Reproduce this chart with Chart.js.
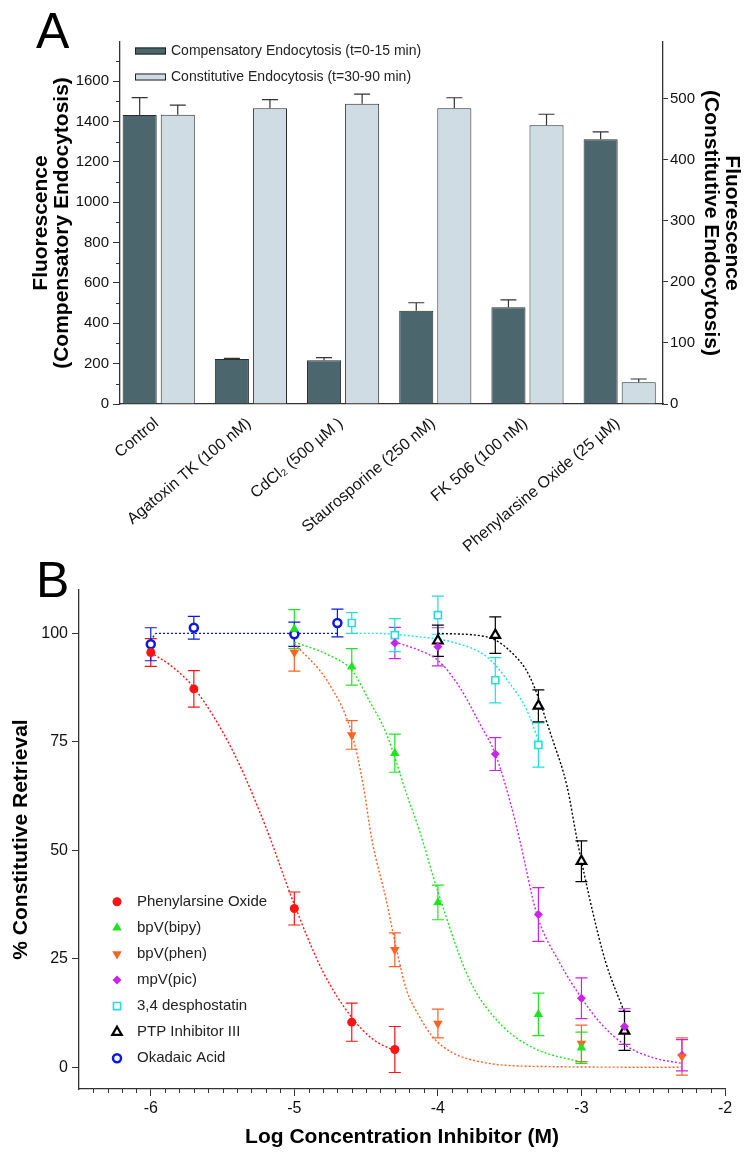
<!DOCTYPE html>
<html>
<head>
<meta charset="utf-8">
<script src="https://cdn.jsdelivr.net/npm/chart.js@4.4.1/dist/chart.umd.min.js"></script>
<style>
  html, body { margin: 0; padding: 0; background: #fff; }
  body { width: 752px; height: 1160px; position: relative; overflow: hidden; }
  canvas { position: absolute; left: 0; }
  #panelA { top: 0; }
  #panelB { top: 560px; }
</style>
</head>
<body>
<canvas id="panelA" width="752" height="570"></canvas>
<canvas id="panelB" width="752" height="600"></canvas>
<script>
(function () {
    "use strict";

    // ---------- Panel A data ----------
    var treatments = ['Control', 'Agatoxin TK (100 nM)', 'CdCl\u2082 (500 \u00b5M )', 'Staurosporine (250 nM)', 'FK 506 (100 nM)', 'Phenylarsine Oxide (25 \u00b5M)'];
    var compensatory = [1433, 223, 217, 463, 480, 1313];
    var compensatoryErr = [86, 3, 13, 39, 36, 36];
    var constitutive = [473, 484, 491, 484, 456, 35.5];
    var constitutiveErr = [16, 14, 16, 17, 18, 5.4];
    var aTicksLeft = [0, 200, 400, 600, 800, 1000, 1200, 1400, 1600];
    var aTicksRight = [0, 100, 200, 300, 400, 500];

    // ---------- Panel B data (log M, % retrieval, SEM) ----------
    var paoLogC = [-6, -5.7, -5, -4.6, -4.3];
    var paoPct = [95.6, 87.2, 36.6, 10.4, 4.1];
    var paoErr = [3.2, 4.2, 3.8, 4.4, 5.3];
    var paoFitX = [-6, -5.85, -5.7, -5.43, -5.2, -5.0, -4.8, -4.6, -4.45, -4.3];
    var paoFitY = [95.6, 92.3, 87.5, 73, 55.5, 37.5, 22, 11.5, 6.4, 3.8];

    var bipyLogC = [-5, -4.6, -4.3, -4, -3.3, -3];
    var bipyPct = [101, 92.3, 72.4, 38.0, 12.2, 4.5];
    var bipyErr = [4.5, 4.2, 4.4, 4.0, 4.9, 3.6];
    var bipyFitX = [-5, -4.76, -4.6, -4.48, -4.36, -4.22, -4.13, -4.0, -3.78, -3.55, -3.31, -3.0];
    var bipyFitY = [98, 95, 91.5, 84.6, 77, 63.2, 54.7, 40.5, 20.2, 9.5, 4.1, 1.2];

    var phenLogC = [-5, -4.6, -4.3, -4, -3, -2.3];
    var phenPct = [95.6, 76.6, 27.1, 10.1, 5.5, 2.5];
    var phenErr = [4.3, 3.3, 3.9, 3.3, 4.2, 4.3];
    var phenFitX = [-5, -4.76, -4.6, -4.52, -4.46, -4.36, -4.3, -4.22, -4.13, -4.03, -3.9, -3.66, -3.3, -2.3];
    var phenFitY = [97.7, 88.5, 77, 65, 52.5, 38.6, 29, 18, 11.8, 6.8, 3.4, 1, 0.2, 0];

    var picLogC = [-4.3, -4, -3.6, -3.3, -3, -2.7, -2.3];
    var picPct = [97.8, 96.9, 72.2, 35.2, 15.9, 9.4, 2.8];
    var picErr = [3.6, 4.4, 3.8, 6.2, 4.7, 4.1, 3.6];
    var picFitX = [-4.3, -4.13, -4.0, -3.85, -3.71, -3.6, -3.5, -3.43, -3.31, -3.15, -3.0, -2.87, -2.69, -2.5, -2.3];
    var picFitY = [98, 96.1, 93.8, 87.7, 79.3, 72.2, 61.6, 52.4, 35.2, 24, 16, 10.3, 5, 2.2, 0.9];

    var despLogC = [-4.6, -4.3, -4, -3.6, -3.3];
    var despPct = [102.4, 99.6, 104.2, 89.2, 74.3];
    var despErr = [2.4, 3.8, 4.4, 5.2, 5.1];
    var despFitX = [-4.6, -4.44, -4.13, -3.9, -3.66, -3.5, -3.38, -3.3];
    var despFitY = [100, 100, 99.2, 98, 94.6, 88.5, 82.3, 75.4];

    var ptpLogC = [-4, -3.6, -3.3, -3, -2.7];
    var ptpPct = [98.3, 99.6, 83.3, 47.5, 8.4];
    var ptpErr = [3.6, 4.2, 3.7, 4.7, 4.5];
    var ptpFitX = [-4, -3.66, -3.48, -3.36, -3.2, -3.1, -3.03, -2.92, -2.83, -2.7];
    var ptpFitY = [100, 99.2, 95.4, 90, 75.4, 64.7, 52.4, 35.6, 24.1, 12.6];

    var okaLogC = [-6, -5.7, -5, -4.7];
    var okaPct = [97.5, 101.3, 99.8, 102.4];
    var okaErr = [3.8, 2.6, 2.8, 3.2];
    var okaFitX = [-6, -5.96, -4.7];
    var okaFitY = [98.3, 100, 100];

    var bTicksY = [0, 25, 50, 75, 100];
    var bTicksX = [-6, -5, -4, -3, -2];

    Chart.defaults.font.family = "'Liberation Sans', Arial, Helvetica, sans-serif";
    Chart.defaults.color = '#111';
    Chart.defaults.animation = false;

    var axisColor = '#333';
    var fontStack = "'Liberation Sans', Arial, Helvetica, sans-serif";

    function fixedTicks(values) {
        return function (s) { s.ticks = values.map(function (v) { return {value: v}; }); };
    }
    function plain(v) { return String(v); }

    // Error bars drawn through each dataset's own y scale
    function drawErrors(chart) {
        var ctx = chart.ctx;
        chart.data.datasets.forEach(function (ds, i) {
            if (!ds.errors) return;
            var meta = chart.getDatasetMeta(i);
            var yScale = chart.scales[meta.yAxisID];
            ctx.save();
            ctx.strokeStyle = ds.errorColor || ds.borderColor;
            ctx.lineWidth = ds.errorWidth || 1.2;
            meta.data.forEach(function (el, j) {
                var v = ds.data[j].y, e = ds.errors[j], w = ds.capWidth || 6;
                var top = yScale.getPixelForValue(v + e);
                var bot = ds.upOnly ? el.y : yScale.getPixelForValue(v - e);
                ctx.beginPath();
                ctx.moveTo(el.x, top); ctx.lineTo(el.x, bot);
                ctx.moveTo(el.x - w, top); ctx.lineTo(el.x + w, top);
                if (!ds.upOnly) { ctx.moveTo(el.x - w, bot); ctx.lineTo(el.x + w, bot); }
                ctx.stroke();
            });
            ctx.restore();
        });
    }
    var errorBars = {
        id: 'errorBars',
        beforeDatasetsDraw: function (chart, args, opts) { if (opts.under) drawErrors(chart); },
        afterDatasetsDraw: function (chart, args, opts) { if (!opts.under) drawErrors(chart); }
    };

    // Short unlabelled ticks
    var minorTicks = {
        id: 'minorTicks',
        afterDraw: function (chart, args, opts) {
            var ctx = chart.ctx;
            (opts.list || []).forEach(function (m) {
                var s = chart.scales[m.scale];
                ctx.save();
                ctx.strokeStyle = axisColor;
                ctx.lineWidth = 1;
                ctx.beginPath();
                m.values.forEach(function (v) {
                    var p = Math.round(s.getPixelForValue(v)) + 0.5;
                    if (s.isHorizontal()) { ctx.moveTo(p, s.top); ctx.lineTo(p, s.top + m.length); }
                    else if (s.position === 'left') { ctx.moveTo(s.right - m.length, p); ctx.lineTo(s.right, p); }
                    else { ctx.moveTo(s.left, p); ctx.lineTo(s.left + m.length, p); }
                });
                ctx.stroke();
                ctx.restore();
            });
        }
    };

    // Panel letter and in-plot legend
    var decor = {
        id: 'decor',
        afterDraw: function (chart, args, opts) {
            var ctx = chart.ctx;
            ctx.save();
            ctx.fillStyle = '#000';
            ctx.font = '50px ' + fontStack;
            ctx.textBaseline = 'alphabetic';
            ctx.fillText(opts.letter, opts.letterX, opts.letterY);
            ctx.font = opts.legendFont + 'px ' + fontStack;
            ctx.textBaseline = 'middle';
            var items = opts.items || [];
            items.forEach(function (it, k) {
                var ds = chart.data.datasets[it];
                var y = opts.legendY + k * opts.legendStep;
                if (opts.kind === 'box') {
                    ctx.fillStyle = ds.backgroundColor;
                    ctx.fillRect(opts.legendX, y - 3.5, 31, 7);
                    ctx.strokeStyle = '#222';
                    ctx.lineWidth = 1;
                    ctx.strokeRect(opts.legendX + 0.5, y - 3, 30, 6);
                    ctx.fillStyle = '#222';
                    ctx.fillText(ds.label, opts.legendX + 36, y);
                } else {
                    ctx.fillStyle = ds.pointBackgroundColor;
                    ctx.strokeStyle = ds.pointBorderColor;
                    ctx.lineWidth = ds.pointBorderWidth;
                    Chart.helpers.drawPoint(ctx, {
                        pointStyle: ds.pointStyle, rotation: ds.pointRotation || 0,
                        radius: ds.pointRadius, borderWidth: ds.pointBorderWidth
                    }, opts.legendX, y);
                    ctx.fillStyle = '#222';
                    ctx.fillText(ds.label, opts.legendX + 20, y);
                }
            });
            ctx.restore();
        }
    };

    // ---------- Panel A ----------
    var leftMinor = [];
    for (var m = 100; m <= 1700; m += 200) leftMinor.push(m);

    function pairs(xs, ys) {
        return xs.map(function (x, i) { return {x: x, y: ys[i]}; });
    }
    var idx = treatments.map(function (t, i) { return i; });

    new Chart(document.getElementById('panelA'), {
        type: 'bar',
        data: {
            datasets: [{
                label: 'Compensatory Endocytosis (t=0-15 min)',
                data: pairs(idx, compensatory),
                yAxisID: 'y',
                backgroundColor: '#4b676d',
                borderColor: '#2a2a2a',
                borderWidth: 1,
                errors: compensatoryErr, upOnly: true, capWidth: 8, errorColor: '#333',
                categoryPercentage: 0.826, barPercentage: 0.895
            }, {
                label: 'Constitutive Endocytosis (t=30-90 min)',
                data: pairs(idx, constitutive),
                yAxisID: 'y2',
                backgroundColor: '#cfdce3',
                borderColor: '#2a2a2a',
                borderWidth: 1,
                errors: constitutiveErr, upOnly: true, capWidth: 8, errorColor: '#333',
                categoryPercentage: 0.826, barPercentage: 0.895
            }]
        },
        options: {
            responsive: false,
            animation: false,
            layout: {padding: {top: 42, left: 0, right: 0, bottom: 0}},
            plugins: {
                legend: {display: false},
                tooltip: {enabled: false},
                errorBars: {under: false},
                minorTicks: {list: [{scale: 'y', values: leftMinor, length: 4}]},
                decor: {letter: 'A', letterX: 36, letterY: 48, kind: 'box', items: [0, 1],
                    legendX: 135, legendY: 51, legendStep: 26, legendFont: 14}
            },
            scales: {
                x: {
                    type: 'linear', min: -0.42, max: 5.47, offset: false,
                    grid: {display: true, drawOnChartArea: false, drawTicks: false, offset: false},
                    border: {display: true, color: axisColor, width: 1.3},
                    afterBuildTicks: fixedTicks(idx),
                    ticks: {
                        autoSkip: false, minRotation: 40, maxRotation: 40, padding: 10, labelOffset: -2,
                        font: {size: 16}, color: '#111',
                        callback: function (v) { return treatments[v] || ''; }
                    },
                    afterFit: function (s) { s.height = 166; }
                },
                y: {
                    position: 'left', min: 0, max: 1795,
                    grid: {drawOnChartArea: false, tickLength: 7, tickColor: axisColor},
                    border: {display: true, color: axisColor, width: 1.3},
                    afterBuildTicks: fixedTicks(aTicksLeft),
                    ticks: {autoSkip: false, padding: 4, font: {size: 15}, color: '#111', callback: plain},
                    title: {display: true, text: ['Fluorescence', '(Compensatory Endocytosis)'],
                        font: {size: 21, weight: 'bold', lineHeight: 1.0}, color: '#000', padding: {top: 31, bottom: 0}},
                    afterFit: function (s) { s.width = 120; }
                },
                y2: {
                    position: 'right', min: 0, max: 592.2,
                    grid: {drawOnChartArea: false, tickLength: 5, tickColor: axisColor},
                    border: {display: true, color: axisColor, width: 1.3},
                    afterBuildTicks: fixedTicks(aTicksRight),
                    ticks: {autoSkip: false, padding: 2, font: {size: 15}, color: '#111', callback: plain},
                    title: {display: true, text: ['Fluorescence', '(Constitutive Endocytosis)'],
                        font: {size: 21, weight: 'bold', lineHeight: 1.0}, color: '#000', padding: {top: 10, bottom: 0}},
                    afterFit: function (s) { s.width = 89; }
                }
            }
        },
        plugins: [errorBars, minorTicks, decor]
    });

    // ---------- Panel B ----------
    function curve(xs, ys, color) {
        return {
            label: '', data: pairs(xs, ys), showLine: true, pointRadius: 0,
            borderColor: color, borderWidth: 1.4, borderDash: [2, 2],
            cubicInterpolationMode: 'monotone', fill: false
        };
    }
    function marks(label, xs, ys, errs, color, style, radius, fillColor, bw, rot) {
        return {
            label: label, data: pairs(xs, ys), showLine: false,
            borderColor: color, errors: errs, capWidth: 6, errorWidth: 1.2,
            pointStyle: style, pointRadius: radius, pointRotation: rot || 0,
            pointBackgroundColor: fillColor, pointBorderColor: color, pointBorderWidth: bw
        };
    }

    var red = '#ff1414', green = '#1ee61e', orange = '#ff6222', magenta = '#cc22ee',
        cyan = '#22dfdf', black = '#000000', blue = '#0a18e6';

    var bMarks = [
        marks('Phenylarsine Oxide', paoLogC, paoPct, paoErr, red, 'circle', 4.5, red, 0),
        marks('bpV(bipy)', bipyLogC, bipyPct, bipyErr, green, 'triangle', 5.5, green, 0),
        marks('bpV(phen)', phenLogC, phenPct, phenErr, orange, 'triangle', 5.5, orange, 0, 180),
        marks('mpV(pic)', picLogC, picPct, picErr, magenta, 'rectRot', 4.5, magenta, 0),
        marks('3,4 desphostatin', despLogC, despPct, despErr, cyan, 'rect', 5, '#ffffff', 1.6),
        marks('PTP Inhibitor III', ptpLogC, ptpPct, ptpErr, black, 'triangle', 5.5, '#ffffff', 2.2),
        marks('Okadaic Acid', okaLogC, okaPct, okaErr, blue, 'circle', 4, '#ffffff', 2.5)
    ];
    var bCurves = [
        curve(paoFitX, paoFitY, red),
        curve(bipyFitX, bipyFitY, green),
        curve(phenFitX, phenFitY, orange),
        curve(picFitX, picFitY, magenta),
        curve(despFitX, despFitY, cyan),
        curve(ptpFitX, ptpFitY, black),
        curve(okaFitX, okaFitY, blue)
    ];

    var xMinor = [];
    for (var t = -64; t <= -21; t++) { if (t % 10 !== 0) xMinor.push(t / 10); }

    new Chart(document.getElementById('panelB'), {
        type: 'scatter',
        data: {datasets: bMarks.concat(bCurves)},
        options: {
            responsive: false,
            animation: false,
            layout: {padding: {top: 30, right: 27, left: 0, bottom: 0}},
            plugins: {
                legend: {display: false},
                tooltip: {enabled: false},
                errorBars: {under: true},
                minorTicks: {list: [{scale: 'x', values: xMinor, length: 4}]},
                decor: {letter: 'B', letterX: 36, letterY: 37, kind: 'point', items: [0, 1, 2, 3, 4, 5, 6],
                    legendX: 117, legendY: 341.7, legendStep: 26.1, legendFont: 15}
            },
            scales: {
                x: {
                    type: 'linear', min: -6.5, max: -2,
                    grid: {drawOnChartArea: false, tickLength: 7, tickColor: axisColor},
                    border: {display: true, color: axisColor, width: 1.3},
                    afterBuildTicks: fixedTicks(bTicksX),
                    ticks: {autoSkip: false, padding: 3, font: {size: 16}, color: '#111', callback: plain},
                    title: {display: true, text: 'Log Concentration Inhibitor (M)',
                        font: {size: 21, weight: 'bold'}, color: '#000', padding: {top: 0, bottom: 10}},
                    afterFit: function (s) { s.height = 71; }
                },
                y: {
                    min: -5, max: 110,
                    grid: {drawOnChartArea: false, tickLength: 7, tickColor: axisColor},
                    border: {display: true, color: axisColor, width: 1.3},
                    afterBuildTicks: fixedTicks(bTicksY),
                    ticks: {autoSkip: false, padding: 4, font: {size: 16}, color: '#111', callback: plain},
                    title: {display: true, text: '% Constitutive Retrieval',
                        font: {size: 21, weight: 'bold'}, color: '#000', padding: {top: 9, bottom: 0}},
                    afterFit: function (s) { s.width = 79; }
                }
            }
        },
        plugins: [errorBars, minorTicks, decor]
    });
})();
</script>
</body>
</html>
